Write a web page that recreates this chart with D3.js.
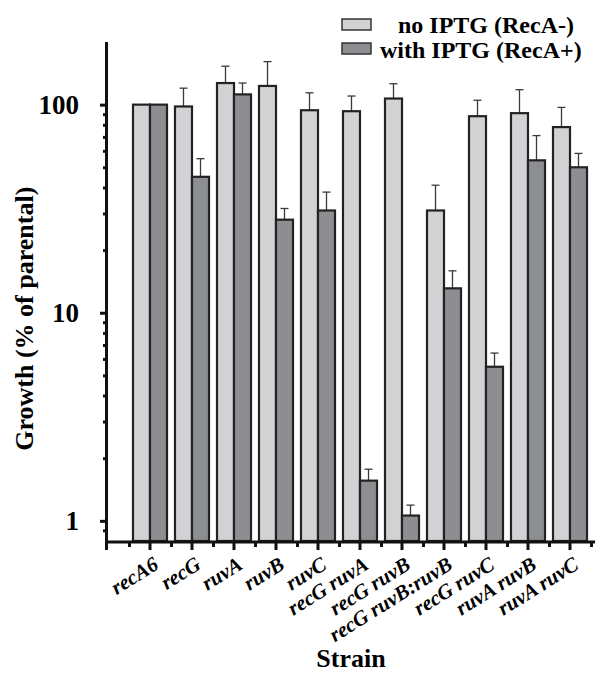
<!DOCTYPE html>
<html>
<head>
<meta charset="utf-8">
<script src="https://cdn.jsdelivr.net/npm/d3@7"></script>
<style>
  html, body { margin: 0; padding: 0; background: #fff; }
  svg { display: block; }
  text { font-family: "Liberation Serif", "Times New Roman", serif; font-weight: bold; fill: #000; }
</style>
</head>
<body>
<svg id="chart" width="605" height="675"></svg>
<script>
// ---- data ----
const categories = ["recA6", "recG", "ruvA", "ruvB", "ruvC", "recG ruvA", "recG ruvB",
                    "recG ruvB:ruvB", "recG ruvC", "ruvA ruvB", "ruvA ruvC"];
const seriesNames = ["no IPTG (RecA-)", "with IPTG (RecA+)"];
const noIPTG      = [100, 98, 127, 123, 94, 93, 107, 31, 88, 91, 78];
const noIPTGErr   = [0, 22, 26, 38, 20, 17, 19, 10, 17, 27, 19];
const withIPTG    = [100, 45, 112, 28, 31, 1.56, 1.06, 13.1, 5.5, 54, 50];
const withIPTGErr = [0, 10, 15, 3.7, 7, 0.21, 0.13, 2.8, 0.9, 17, 8.3];
const yMajorTicks = [1, 10, 100];
const yMinorTicks = [0.9, 2, 3, 4, 5, 6, 7, 8, 9, 20, 30, 40, 50, 60, 70, 80, 90];
const yTitle = "Growth (% of parental)";
const xTitle = "Strain";

// ---- styles ----
const fills = ["#d1d2d4", "#8d8e91"];
const outline = "#222";

const svg = d3.select("#chart");

const y = d3.scaleLog().domain([0.8, 200]).range([541, 42]);
const x = d3.scaleBand().domain(categories).range([129, 591]).paddingInner(0).paddingOuter(0);
const xs = d3.scaleBand().domain(seriesNames).range([0, x.bandwidth()]).paddingInner(0).paddingOuter(0.235);
const xb = d3.scaleLinear().domain([0, categories.length]).range([129, 591]);

const rows = categories.map((c, i) => ({
  cat: c,
  vals: [
    { s: seriesNames[0], v: noIPTG[i], e: noIPTGErr[i], k: 0 },
    { s: seriesNames[1], v: withIPTG[i], e: withIPTGErr[i], k: 1 }
  ]
}));

// bars
const g = svg.append("g");
const grp = g.selectAll("g.cat").data(rows).join("g")
  .attr("class", "cat")
  .attr("transform", d => `translate(${x(d.cat)},0)`);

// error bars (upper only)
grp.selectAll("g.err").data(d => d.vals.filter(v => v.e > 0)).join("g")
  .attr("class", "err")
  .each(function(d) {
    const cx = xs(d.s) + xs.bandwidth() / 2;
    const sel = d3.select(this);
    sel.append("line")
      .attr("x1", cx).attr("x2", cx)
      .attr("y1", y(d.v)).attr("y2", y(d.v + d.e))
      .attr("stroke", "#3a3a3a").attr("stroke-width", 1.3);
    sel.append("line")
      .attr("x1", cx - 4).attr("x2", cx + 4)
      .attr("y1", y(d.v + d.e)).attr("y2", y(d.v + d.e))
      .attr("stroke", "#3a3a3a").attr("stroke-width", 1.3);
  });

grp.selectAll("rect").data(d => d.vals).join("rect")
  .attr("x", d => xs(d.s))
  .attr("width", xs.bandwidth())
  .attr("y", d => y(d.v))
  .attr("height", d => y(0.8) - y(d.v))
  .attr("fill", d => fills[d.k])
  .attr("stroke", outline)
  .attr("stroke-width", 2.2);

// ---- y axis ----
const yAxisG = svg.append("g").attr("transform", "translate(107,0)");
yAxisG.call(d3.axisLeft(y).tickValues(yMajorTicks).tickSize(7).tickSizeOuter(0)
  .tickPadding(21).tickFormat(d3.format("d")));
yAxisG.select(".domain").remove();
yAxisG.selectAll(".tick line").attr("stroke", "#111").attr("stroke-width", 3);
yAxisG.selectAll(".tick text").style("font-size", "27px").attr("font-family", null);

const yMinorG = svg.append("g").attr("transform", "translate(107,0)");
yMinorG.call(d3.axisLeft(y).tickValues(yMinorTicks).tickSize(4).tickSizeOuter(0).tickFormat(""));
yMinorG.select(".domain").remove();
yMinorG.selectAll(".tick line").attr("stroke", "#111").attr("stroke-width", 3);

svg.append("line").attr("x1", 106.5).attr("x2", 106.5)
  .attr("y1", y(200)).attr("y2", 550)
  .attr("stroke", "#111").attr("stroke-width", 3);

// ---- x axis ----
const xAxisG = svg.append("g").attr("transform", "translate(0,542)");
xAxisG.call(d3.axisBottom(x).tickSize(8).tickSizeOuter(0).tickPadding(0));
xAxisG.select(".domain").remove();
xAxisG.selectAll(".tick line").attr("stroke", "#111").attr("stroke-width", 3);
xAxisG.selectAll(".tick text")
  .attr("font-family", null)
  .style("font-size", "21px")
  .style("font-style", "italic")
  .attr("text-anchor", "end")
  .attr("dy", null)
  .attr("y", null)
  .attr("transform", "translate(10,26) rotate(-32)");

const xMinorG = svg.append("g").attr("transform", "translate(0,542)");
xMinorG.call(d3.axisBottom(xb).tickValues(d3.range(0, categories.length + 1)).tickSize(5).tickSizeOuter(0).tickFormat(""));
xMinorG.select(".domain").remove();
xMinorG.selectAll(".tick line").attr("stroke", "#111").attr("stroke-width", 3);

svg.append("line").attr("x1", 105).attr("x2", 595)
  .attr("y1", 542).attr("y2", 542)
  .attr("stroke", "#111").attr("stroke-width", 3);

// ---- titles ----
svg.append("text")
  .attr("transform", `translate(33,${(y(1) + y(100)) / 2 + 6}) rotate(-90)`)
  .attr("text-anchor", "middle")
  .style("font-size", "26px")
  .text(yTitle);

svg.append("text")
  .attr("x", 351).attr("y", 667)
  .attr("text-anchor", "middle")
  .style("font-size", "26px")
  .text(xTitle);

// ---- legend ----
const legend = svg.append("g");
const legendRows = [
  { name: seriesNames[0], k: 0, sy: 19, ty: 33, tx: 398 },
  { name: seriesNames[1], k: 1, sy: 43, ty: 58, tx: 380 }
];
legend.selectAll("rect").data(legendRows).join("rect")
  .attr("x", 342).attr("y", d => d.sy)
  .attr("width", 29).attr("height", 11)
  .attr("fill", d => fills[d.k])
  .attr("stroke", "#333").attr("stroke-width", 1.5);
legend.selectAll("text").data(legendRows).join("text")
  .attr("x", d => d.tx).attr("y", d => d.ty)
  .style("font-size", "24px")
  .text(d => d.name);
</script>
</body>
</html>
